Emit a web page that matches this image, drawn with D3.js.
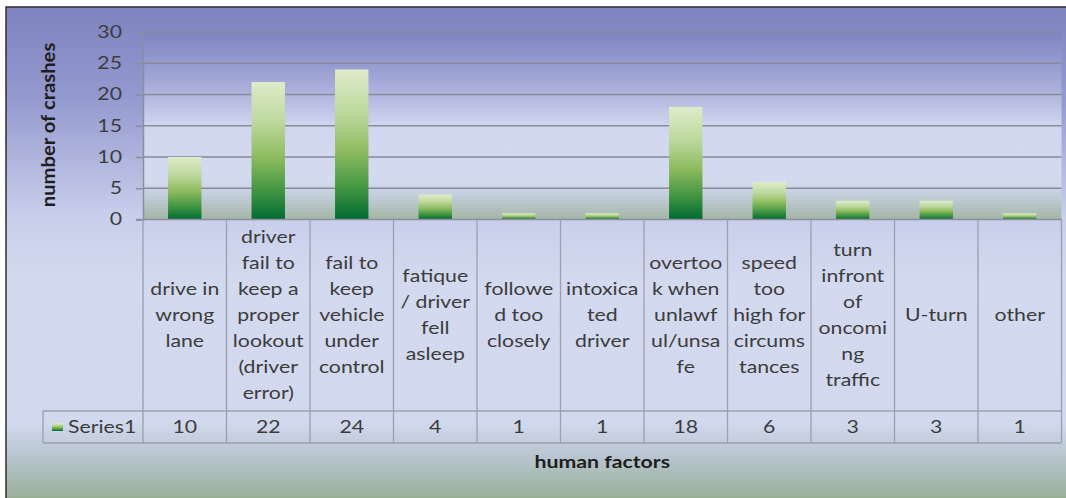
<!DOCTYPE html>
<html>
<head>
<meta charset="utf-8">
<script src="https://cdn.jsdelivr.net/npm/d3@7"></script>
<style>
  html, body { margin: 0; padding: 0; background: #ffffff; }
  svg { display: block; }
  text { font-family: Lato, "Open Sans", "DejaVu Sans", sans-serif; fill: #3c3c3c; }
</style>
</head>
<body>
<svg id="chart" width="1066" height="498"></svg>
<script>
// Crash counts by contributing human factor
const categoryLines = [
  ["drive in", "wrong", "lane"],
  ["driver", "fail to", "keep a", "proper", "lookout", "(driver", "error)"],
  ["fail to", "keep", "vehicle", "under", "control"],
  ["fatique", "/ driver", "fell", "asleep"],
  ["followe", "d too", "closely"],
  ["intoxica", "ted", "driver"],
  ["overtoo", "k when", "unlawf", "ul/unsa", "fe"],
  ["speed", "too", "high for", "circums", "tances"],
  ["turn", "infront", "of", "oncomi", "ng", "traffic"],
  ["U-turn"],
  ["other"]
];
const seriesName = "Series1";
const seriesValues = [10, 22, 24, 4, 1, 1, 18, 6, 3, 3, 1];
const yTicks = [0, 5, 10, 15, 20, 25, 30];
const yTitle = "number of crashes";
const xTitle = "human factors";

// Typography: a wide setting of the sans face
const fontSize = 17;
const stretch = 1.25;

const svg = d3.select("#chart");
const defs = svg.append("defs");

function gradient(id, stops) {
  const g = defs.append("linearGradient").attr("id", id)
    .attr("x1", 0).attr("y1", 0).attr("x2", 0).attr("y2", 1);
  stops.forEach(([o, c]) => g.append("stop").attr("offset", o).attr("stop-color", c));
}
gradient("chartBg", [[0, "#7e83bf"], [0.18, "#9499cf"], [0.42, "#c9cfeb"], [0.55, "#d3d9ee"], [0.83, "#d2d9ee"], [0.9, "#b8c5cf"], [1, "#92aa8a"]]);
gradient("plotBg", [[0, "#7f84c0"], [0.25, "#a1a6d6"], [0.5, "#d0d6ee"], [0.8, "#d4daee"], [0.87, "#c3cedb"], [1, "#a3b5a6"]]);
gradient("barFill", [[0, "#dfeccb"], [0.3, "#bcd79b"], [0.55, "#8dbb5e"], [0.8, "#3f9442"], [1, "#006a32"]]);

// Plot area and data table geometry
const plotLeft = 143, plotRight = 1061.5, plotTop = 32, plotBottom = 219.5;
const tableRowTop = 411, tableRowBottom = 443, tableLeft = 43;

svg.append("rect")
  .attr("x", 6).attr("y", 7).attr("width", 1070).attr("height", 500)
  .attr("fill", "url(#chartBg)")
  .attr("stroke", "#2e2e2e").attr("stroke-width", 1.5);

svg.append("rect")
  .attr("x", plotLeft).attr("y", plotTop)
  .attr("width", plotRight - plotLeft).attr("height", plotBottom - plotTop)
  .attr("fill", "url(#plotBg)");

const n = seriesValues.length;
const xCell = d3.scaleBand().domain(d3.range(n)).range([plotLeft, plotRight]).padding(0);
const xBar = d3.scaleBand().domain(d3.range(n)).range([plotLeft, plotRight])
  .paddingInner(0.6).paddingOuter(0.3);
const y = d3.scaleLinear().domain([0, 30]).range([plotBottom, plotTop]);

// Horizontal gridlines
svg.append("g").selectAll("line").data(yTicks.filter(t => t > 0)).join("line")
  .attr("x1", plotLeft).attr("x2", plotRight)
  .attr("y1", d => y(d)).attr("y2", d => y(d))
  .attr("stroke", "#878b9c").attr("stroke-width", 1.5);

// Bars
svg.append("g").selectAll("rect").data(seriesValues).join("rect")
  .attr("x", (d, i) => xBar(i))
  .attr("width", xBar.bandwidth())
  .attr("y", d => y(d))
  .attr("height", d => y(0) - y(d))
  .attr("fill", "url(#barFill)");

// Value axis
const tickPad = 14, tickLen = 7;
const yAxis = svg.append("g")
  .attr("transform", `translate(${plotLeft},0)`)
  .call(d3.axisLeft(y).tickValues(yTicks).tickSize(tickLen).tickPadding(tickPad));
yAxis.select(".domain").attr("stroke", "#8a8e9e").attr("stroke-width", 1.5);
yAxis.selectAll(".tick line").attr("stroke", "#8a8e9e").attr("stroke-width", 1.5);
yAxis.selectAll(".tick text")
  .style("font-family", "Lato, 'Open Sans', sans-serif")
  .attr("font-size", fontSize).attr("fill", "#3c3c3c")
  .attr("x", 0)
  .attr("transform", `translate(${-(tickLen + tickPad)},0) scale(${stretch},1)`);

// Baseline
svg.append("line")
  .attr("x1", plotLeft - tickLen).attr("x2", plotRight).attr("y1", plotBottom).attr("y2", plotBottom)
  .attr("stroke", "#8a8e9e").attr("stroke-width", 1.5);

// Data table grid
const grid = svg.append("g").attr("stroke", "#9c9fae").attr("stroke-width", 1.3);
grid.selectAll("line.v").data(d3.range(n + 1)).join("line")
  .attr("class", "v")
  .attr("x1", i => i < n ? xCell(i) : plotRight).attr("x2", i => i < n ? xCell(i) : plotRight)
  .attr("y1", plotBottom).attr("y2", tableRowBottom);
grid.append("line").attr("x1", tableLeft).attr("x2", plotRight)
  .attr("y1", tableRowTop).attr("y2", tableRowTop);
grid.append("line").attr("x1", tableLeft).attr("x2", plotRight)
  .attr("y1", tableRowBottom).attr("y2", tableRowBottom);
grid.append("line").attr("x1", tableLeft).attr("x2", tableLeft)
  .attr("y1", tableRowTop).attr("y2", tableRowBottom);

// Category labels (wrapped, centred in each cell)
const lineH = 26;
const labelMid = (plotBottom + tableRowTop) / 2;
const cats = svg.append("g").selectAll("text").data(categoryLines).join("text")
  .attr("text-anchor", "middle")
  .attr("font-size", fontSize)
  .attr("transform", (d, i) => `translate(${xCell(i) + xCell.bandwidth() / 2},0) scale(${stretch},1)`);
cats.each(function (lines) {
  const t = d3.select(this);
  const y0 = labelMid - (lines.length - 1) * lineH / 2;
  lines.forEach((s, k) => {
    t.append("tspan")
      .attr("x", 0)
      .attr("y", y0 + k * lineH)
      .attr("dy", "0.35em")
      .text(s);
  });
});

// Value row
const rowMid = (tableRowTop + tableRowBottom) / 2;
svg.append("g").selectAll("text").data(seriesValues).join("text")
  .attr("text-anchor", "middle")
  .attr("font-size", fontSize)
  .attr("transform", (d, i) => `translate(${xCell(i) + xCell.bandwidth() / 2},${rowMid}) scale(${stretch},1)`)
  .attr("dy", "0.35em")
  .text(d => d);

// Legend key in the table header cell
svg.append("rect")
  .attr("x", 52).attr("y", rowMid - 4).attr("width", 11).attr("height", 8)
  .attr("fill", "url(#barFill)");
svg.append("text")
  .attr("transform", `translate(68,${rowMid}) scale(${stretch},1)`)
  .attr("dy", "0.35em")
  .attr("font-size", fontSize)
  .text(seriesName);

// Axis titles
svg.append("text")
  .attr("transform", `translate(48,125) rotate(-90) scale(1.19,1.1)`)
  .attr("text-anchor", "middle").attr("dy", "0.35em")
  .attr("font-size", fontSize).attr("font-weight", "bold").style("fill", "#1e1e1e")
  .text(yTitle);
svg.append("text")
  .attr("transform", `translate(${(plotLeft + plotRight) / 2},462) scale(${stretch},1)`)
  .attr("dy", "0.35em")
  .attr("text-anchor", "middle")
  .attr("font-size", fontSize).attr("font-weight", "bold").style("fill", "#1e1e1e")
  .text(xTitle);
</script>
</body>
</html>
